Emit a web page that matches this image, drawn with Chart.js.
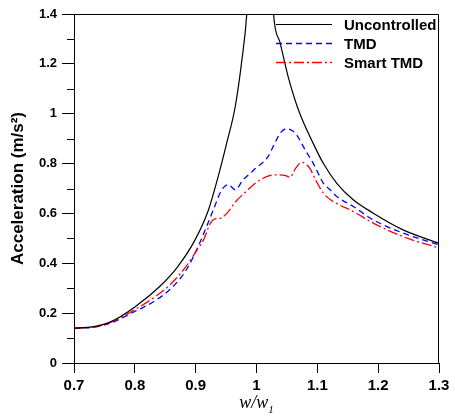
<!DOCTYPE html>
<html>
<head>
<meta charset="utf-8">
<script src="https://cdn.jsdelivr.net/npm/chart.js@4"></script>
<style>
  html, body { margin: 0; padding: 0; background: #fff; }
  #wrap { width: 455px; height: 420px; }
</style>
</head>
<body>
<div id="wrap"><canvas id="chart" width="455" height="420"></canvas></div>
<script>
// --- Data ---
const seriesLabels = ['Uncontrolled', 'TMD', 'Smart TMD'];

const uncX = [0.70, 0.73, 0.76, 0.80, 0.84, 0.87, 0.899, 0.921, 0.937, 0.951, 0.965, 0.976, 0.984, 1.006,
              1.028, 1.039, 1.052, 1.069, 1.093, 1.110, 1.132, 1.159, 1.192, 1.241, 1.30];
const uncY = [0.140, 0.145, 0.165, 0.225, 0.305, 0.385, 0.494, 0.614, 0.748, 0.882, 1.028, 1.216, 1.40, 2.5,
              1.40, 1.283, 1.149, 1.015, 0.882, 0.800, 0.721, 0.655, 0.601, 0.534, 0.480];

const tmdX = [0.70, 0.73, 0.76, 0.80, 0.83, 0.86, 0.885, 0.904, 0.918, 0.929, 0.943, 0.954, 0.965, 0.978,
              0.989, 0.998, 1.019, 1.030, 1.040, 1.050, 1.060, 1.066, 1.080, 1.093, 1.104, 1.110, 1.121,
              1.132, 1.159, 1.192, 1.241, 1.30];
const tmdY = [0.140, 0.143, 0.160, 0.207, 0.245, 0.300, 0.375, 0.467, 0.548, 0.614, 0.695, 0.715, 0.695, 0.735,
              0.760, 0.780, 0.828, 0.882, 0.925, 0.940, 0.930, 0.915, 0.855, 0.802, 0.748, 0.721, 0.695,
              0.668, 0.628, 0.574, 0.521, 0.474];

const smartX = [0.70, 0.73, 0.76, 0.80, 0.83, 0.858, 0.885, 0.904, 0.913, 0.924, 0.932, 0.940, 0.956, 0.965,
                0.984, 0.998, 1.011, 1.019, 1.036, 1.048, 1.055, 1.064, 1.074, 1.080, 1.088, 1.096, 1.110,
                1.126, 1.159, 1.192, 1.241, 1.30];
const smartY = [0.140, 0.143, 0.163, 0.214, 0.260, 0.314, 0.390, 0.460, 0.494, 0.560, 0.578, 0.580, 0.614, 0.645,
                0.690, 0.721, 0.741, 0.750, 0.755, 0.752, 0.745, 0.780, 0.805, 0.800, 0.780, 0.740, 0.681,
                0.648, 0.608, 0.561, 0.507, 0.461];

const xTicks = [0.7, 0.8, 0.9, 1.0, 1.1, 1.2, 1.3];
const yTicks = [0, 0.2, 0.4, 0.6, 0.8, 1.0, 1.2, 1.4];
const yMinorTicks = [0.1, 0.3, 0.5, 0.7, 0.9, 1.1, 1.3];

const SANS = 'Arial, "Liberation Sans", sans-serif';
const SERIF = '"Times New Roman", "Liberation Serif", serif';

function toPoints(xs, ys) {
    return xs.map((x, i) => ({ x: x, y: ys[i] }));
}

// frame, minor ticks, legend and x title
const extrasPlugin = {
    id: 'extras',
    afterDraw(chart) {
        const ctx = chart.ctx;
        const area = chart.chartArea;
        const yScale = chart.scales.y;

        ctx.save();
        ctx.strokeStyle = '#000';
        ctx.lineWidth = 1;

        // box round the plot
        ctx.beginPath();
        ctx.moveTo(area.left, area.top + 0.5);
        ctx.lineTo(area.right - 0.5, area.top + 0.5);
        ctx.lineTo(area.right - 0.5, area.bottom);
        ctx.stroke();

        // minor ticks on the y axis
        ctx.beginPath();
        yMinorTicks.forEach(v => {
            const py = Math.round(yScale.getPixelForValue(v)) + 0.5;
            ctx.moveTo(area.left - 7, py);
            ctx.lineTo(area.left, py);
        });
        ctx.stroke();

        // legend
        const rows = [area.top + 10, area.top + 29, area.top + 48];
        chart.data.datasets.forEach((ds, i) => {
            const y = Math.round(rows[i]) + 0.5;
            ctx.strokeStyle = ds.borderColor;
            ctx.lineWidth = ds.borderWidth;
            ctx.setLineDash(ds.borderDash || []);
            ctx.beginPath();
            ctx.moveTo(area.left + 202, y);
            ctx.lineTo(area.left + 258, y);
            ctx.stroke();
            ctx.setLineDash([]);
            ctx.fillStyle = '#000';
            ctx.font = 'bold 15px ' + SANS;
            ctx.textAlign = 'left';
            ctx.textBaseline = 'middle';
            ctx.fillText(ds.label, area.left + 270, y + 1);
        });

        // x axis title: w/w1 with subscript
        const cx = (area.left + area.right) / 2;
        ctx.fillStyle = '#000';
        ctx.textBaseline = 'alphabetic';
        ctx.font = 'italic 11px ' + SERIF;
        const subW = ctx.measureText('1').width;
        ctx.font = 'italic 18px ' + SERIF;
        const main = 'w/w';
        const mainW = ctx.measureText(main).width;
        const startX = cx - (mainW + subW) / 2;
        ctx.textAlign = 'left';
        ctx.fillText(main, startX, 408);
        ctx.font = 'italic 11px ' + SERIF;
        ctx.fillText('1', startX + mainW, 413);

        ctx.restore();
    }
};

const ctx = document.getElementById('chart').getContext('2d');

new Chart(ctx, {
    type: 'line',
    data: {
        datasets: [
            {
                label: seriesLabels[0],
                data: toPoints(uncX, uncY),
                borderColor: '#000000',
                borderWidth: 1.2,
                order: 0
            },
            {
                label: seriesLabels[1],
                data: toPoints(tmdX, tmdY),
                borderColor: '#0000ff',
                borderWidth: 1.3,
                borderDash: [6, 4],
                order: 2
            },
            {
                label: seriesLabels[2],
                data: toPoints(smartX, smartY),
                borderColor: '#ff0000',
                borderWidth: 1.3,
                borderDash: [10, 3, 2, 3],
                order: 1
            }
        ]
    },
    options: {
        responsive: false,
        animation: false,
        devicePixelRatio: 1,
        elements: {
            point: { radius: 0 },
            line: { cubicInterpolationMode: 'monotone', fill: false }
        },
        layout: { padding: { left: 0, right: 16, top: 14, bottom: 0 } },
        plugins: {
            legend: { display: false },
            tooltip: { enabled: false }
        },
        scales: {
            x: {
                type: 'linear',
                min: 0.7,
                max: 1.3,
                afterBuildTicks: (scale) => { scale.ticks = xTicks.map(v => ({ value: v })); },
                afterFit: (scale) => { scale.height = 57; },
                ticks: {
                    color: '#000',
                    font: { family: SANS, size: 15, weight: 'bold' },
                    padding: 4,
                    maxRotation: 0,
                    callback: (v) => String(+v.toFixed(1))
                },
                grid: { drawOnChartArea: false, drawTicks: true, tickLength: 10, color: '#000' },
                border: { color: '#000', width: 1 },
                title: { display: false }
            },
            y: {
                type: 'linear',
                min: 0,
                max: 1.4,
                afterBuildTicks: (scale) => { scale.ticks = yTicks.map(v => ({ value: v })); },
                afterFit: (scale) => { scale.width = 74; },
                ticks: {
                    color: '#000',
                    font: { family: SANS, size: 13, weight: 'bold' },
                    padding: 5,
                    callback: (v) => String(+v.toFixed(1))
                },
                grid: { drawOnChartArea: false, drawTicks: true, tickLength: 12, color: '#000' },
                border: { color: '#000', width: 1 },
                title: {
                    display: true,
                    text: 'Acceleration (m/s²)',
                    color: '#000',
                    font: { family: SANS, size: 17, weight: 'bold' },
                    padding: { top: 8, bottom: 0 }
                }
            }
        }
    },
    plugins: [extrasPlugin]
});
</script>
</body>
</html>
